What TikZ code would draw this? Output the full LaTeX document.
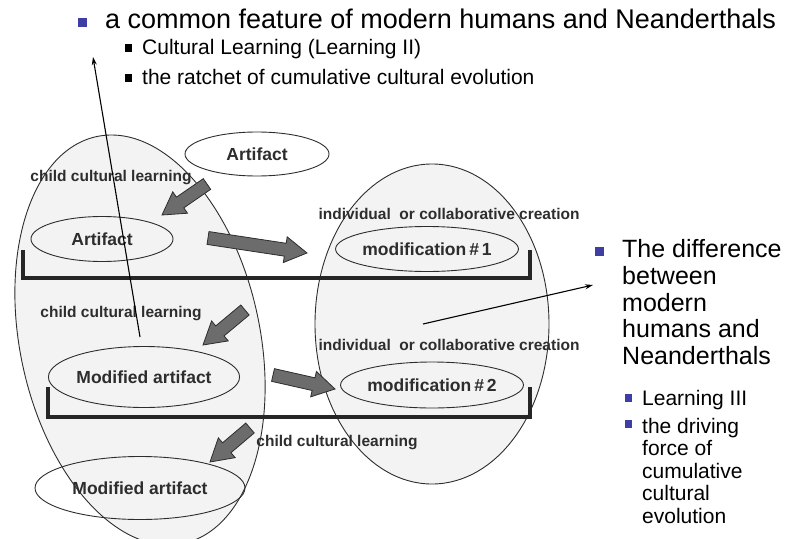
\documentclass[tikz,border=0pt]{standalone}
\usepackage{fontspec}
\setmainfont{Liberation Sans}
\usetikzlibrary{shapes.geometric,calc,arrows.meta}
\definecolor{bullblue}{RGB}{62,62,165}
\definecolor{labgray}{RGB}{45,45,45}
\definecolor{arrgray}{RGB}{108,108,108}
\definecolor{ellfill}{RGB}{243,243,243}
\tikzset{
  lab/.style={font=\bfseries\fontsize{15.5}{16}\selectfont, text=labgray, inner sep=0pt},
  blob/.style={draw=labgray, line width=0.9pt, ellipse, inner sep=0pt,
    font=\bfseries\fontsize{17.5}{18}\selectfont, text=labgray},
  bigell/.style={draw=labgray, fill=ellfill, line width=0.9pt},
  bracket/.style={line width=3.8pt, draw=black!85},
  thinarr/.style={line width=1.1pt, -{Stealth[length=8pt,width=5pt]}},
  head/.style={font=\fontsize{27}{27.5}\selectfont, inner sep=0pt},
  rhead/.style={font=\fontsize{25}{26.7}\selectfont, inner sep=0pt, align=left},
  sub/.style={font=\fontsize{21}{22.6}\selectfont, inner sep=0pt, align=left},
  sqb/.style={fill=bullblue, minimum size=9pt, inner sep=0pt},
  sqs/.style={fill=#1, minimum width=7pt, minimum height=7.5pt, inner sep=0pt},
  barrow/.style={draw=labgray, fill=arrgray, line width=0.8pt,
    to path={($(\tikztostart)!6.5pt!90:(\tikztotarget)$)
      -- ($($(\tikztotarget)!22pt!(\tikztostart)$)!6.5pt!-90:(\tikztostart)$)
      -- ($($(\tikztotarget)!22pt!(\tikztostart)$)!13pt!-90:(\tikztostart)$)
      -- (\tikztotarget)
      -- ($($(\tikztotarget)!22pt!(\tikztostart)$)!13pt!90:(\tikztostart)$)
      -- ($($(\tikztotarget)!22pt!(\tikztostart)$)!6.5pt!90:(\tikztostart)$)
      -- ($(\tikztostart)!6.5pt!-90:(\tikztotarget)$) -- cycle}},
}
\begin{document}
\begin{tikzpicture}[x=1pt,y=-1pt]
  \useasboundingbox (0,0) rectangle (792,538);
  % the two regions
  \draw[bigell, rotate around={12:(140,340)}] (140,340) ellipse [x radius=120, y radius=208];
  \draw[bigell] (432,324) ellipse [x radius=117, y radius=160];
  % generations
  \draw[bracket] (23,250) -- (23,278) -- (530,278) -- (530,250);
  \draw[bracket] (48,387) -- (48,417) -- (530,417) -- (530,387);
  % artifacts
  \node[blob, minimum width=144pt, minimum height=44pt] (art0) at (257,154) {Artifact};
  \node[blob, minimum width=142pt, minimum height=45pt] (art1) at (102,239) {Artifact};
  \node[blob, minimum width=142pt, minimum height=45pt] (mod1) at (427,249) {modification\,\#\,1};
  \node[blob, minimum width=186pt, minimum height=61pt] (mart1) at (144,377) {Modified artifact};
  \node[blob, minimum width=142pt, minimum height=46pt] (mod2) at (432,385) {modification\,\#\,2};
  \node[blob, minimum width=210pt, minimum height=63pt] (mart2) at (140,488) {Modified artifact};
  % steps
  \node[lab] (ccl1) at (111,178) {child cultural learning};
  \node[lab] (icc1) at (449,214) {individual~ or collaborative creation};
  \node[lab] (ccl2) at (121,314) {child cultural learning};
  \node[lab] (icc2) at (449,345) {individual~ or collaborative creation};
  \node[lab] (ccl3) at (337,443) {child cultural learning};
  % block arrows
  \coordinate (b1s) at (207,184); \coordinate (b1e) at (162,215);
  \coordinate (b2s) at (208,238); \coordinate (b2e) at (307,253);
  \coordinate (b3s) at (245,310); \coordinate (b3e) at (203,345);
  \coordinate (b4s) at (273,375); \coordinate (b4e) at (335,389);
  \coordinate (b5s) at (250,428); \coordinate (b5e) at (210,462);
  \foreach \i in {1,...,5}
    \draw[barrow] (b\i s) to (b\i e);
  % pointers to the two texts
  \coordinate (t1s) at (140,337); \coordinate (t1e) at (93,57);
  \coordinate (t2s) at (423,324); \coordinate (t2e) at (593,285);
  \draw[thinarr] (t1s) -- (t1e);
  \draw[thinarr] (t2s) -- (t2e);
  % common feature
  \node[sqb] (q0) at (82.5,22.5) {};
  \node[head, anchor=base west] (hd) at (105,28) {a common feature of modern humans and Neanderthals};
  \node[sqs=black] (q1) at (128.5,48) {};
  \node[sub, anchor=base west] (s1) at (142,54) {Cultural Learning (Learning II)};
  \node[sqs=black] (q2) at (128.5,78) {};
  \node[sub, anchor=base west] (s2) at (142,84) {the ratchet of cumulative cultural evolution};
  % difference
  \node[sqb] (q3) at (599.5,251.5) {};
  \node[rhead, anchor=north west] (rd) at (622,239.5) {The difference\\between\\modern\\humans and\\Neanderthals};
  \node[sqs=bullblue] (q4) at (628.5,398) {};
  \node[sub, anchor=base west] (r1) at (642,405) {Learning III};
  \node[sqs=bullblue] (q5) at (628.5,424) {};
  \node[sub, anchor=north west] (r2) at (642,417.7) {the driving\\force of\\cumulative\\cultural\\evolution};
\end{tikzpicture}
\end{document}
